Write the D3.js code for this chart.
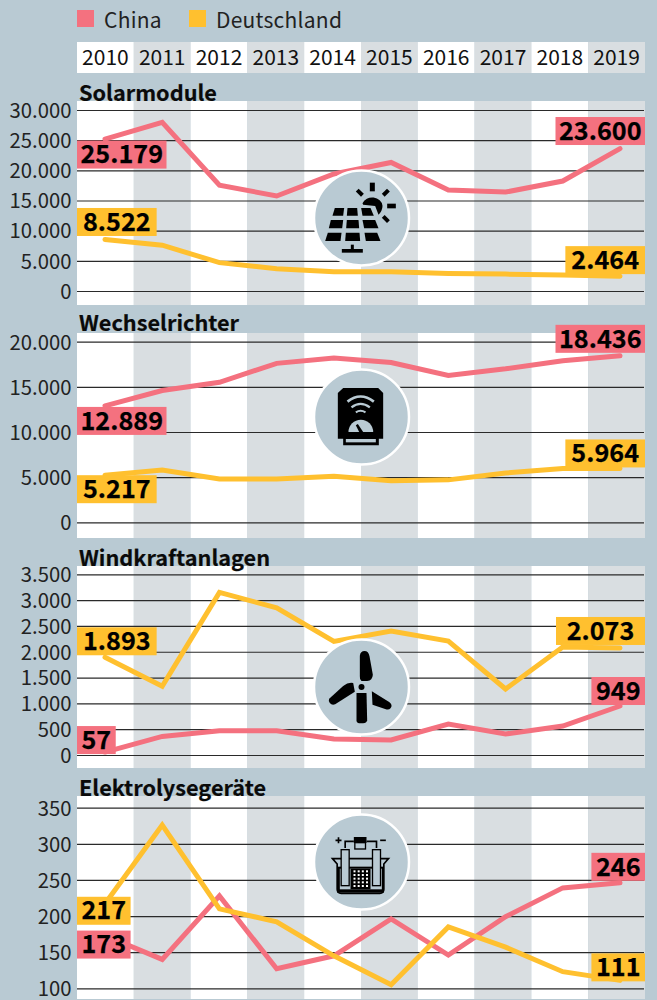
<!DOCTYPE html>
<html><head><meta charset="utf-8">
<script src="https://cdnjs.cloudflare.com/ajax/libs/d3/7.8.5/d3.min.js"></script>
<style>html,body{margin:0;padding:0;background:#b9cad3}svg{display:block}
text{font-family:"Noto Sans CJK JP","Noto Sans",sans-serif}</style></head><body>
<script>
const years = [2010,2011,2012,2013,2014,2015,2016,2017,2018,2019];
const panelNames = ["Solarmodule","Wechselrichter","Windkraftanlagen","Elektrolysegeräte"];
const seriesNames = ["China","Deutschland"];
const solarChina = [25179,27950,17550,15750,19400,21300,16740,16400,18230,23600];
const solarDE = [8522,7600,4700,3700,3200,3200,2900,2800,2650,2464];
const inverterChina = [12889,14600,15500,17600,18200,17700,16260,17000,17900,18436];
const inverterDE = [5217,5800,4800,4800,5100,4600,4700,5460,5950,5964];
const windChina = [57,360,470,470,310,290,600,407,560,949];
const windDE = [1893,1330,3150,2850,2200,2400,2208,1278,2090,2073];
const electroChina = [173,140,228,127,145,196,146,199,239,246];
const electroDE = [217,326,210,192,145,105,185,157,123,111];
const solarTicks = [0,5000,10000,15000,20000,25000,30000];
const inverterTicks = [0,5000,10000,15000,20000];
const windTicks = [0,500,1000,1500,2000,2500,3000,3500];
const electroTicks = [100,150,200,250,300,350];

const W=657,H=1000, BG="#b9cad3", GREY="#d9dee1", RED="#f4717f", YEL="#ffc02f", colors=[RED,YEL];
const fmt = d3.formatLocale({decimal:",",thousands:".",grouping:[3],currency:["","€"]}).format(",d");
const svg = d3.select("body").append("svg").attr("width",W).attr("height",H);
svg.append("rect").attr("width",W).attr("height",H).attr("fill",BG);

const band = d3.scaleBand().domain(years).range([77,645]);
const x = d3.scalePoint().domain(years).range([105,620]);

// legend
const legX=[77,189];
seriesNames.forEach((s,i)=>{
  svg.append("rect").attr("x",legX[i]).attr("y",10).attr("width",17).attr("height",17).attr("fill",colors[i]);
  svg.append("text").attr("x",legX[i]+27).attr("y",27.5).attr("font-size",21).attr("letter-spacing",0.25).attr("fill","#222").text(s);
});
// header years
const head = svg.append("g");
years.forEach((y,i)=>{
  head.append("rect").attr("x",band(y)).attr("y",42).attr("width",band.bandwidth()).attr("height",31).attr("fill",i%2?GREY:"#fff");
  head.append("text").attr("x",band(y)+band.bandwidth()/2).attr("y",65).attr("text-anchor","middle").attr("font-size",21).attr("fill","#111").text(y);
});

const panels=[
 {top:101,bot:305,y0:291,y1:110,dom:[0,30000],ticks:solarTicks,cn:solarChina,de:solarDE,off:[1.5,-31.6,-31.6,-30],cy:218,titleY:100.5,icon:iconSolar},
 {top:333,bot:538,y0:522.3,y1:341.7,dom:[0,20000],ticks:inverterTicks,cn:inverterChina,de:inverterDE,off:[1,-31,0,-29],cy:417,titleY:331,icon:iconInverter},
 {top:566,bot:768,y0:755,y1:574.3,dom:[0,3500],ticks:windTicks,cn:windChina,de:windDE,off:[-26,-29,-30,-31],cy:687,titleY:565.5,icon:iconWind},
 {top:796,bot:999,y0:988.3,y1:807.7,dom:[100,350],ticks:electroTicks,cn:electroChina,de:electroDE,off:[-5,-30,-7,-27],cy:862,titleY:795.5,icon:iconElectro}
];

panels.forEach((p,pi)=>{
  const g=svg.append("g");
  const y=d3.scaleLinear().domain(p.dom).range([p.y0,p.y1]);
  years.forEach((yr,i)=>g.append("rect").attr("x",band(yr)).attr("y",p.top).attr("width",band.bandwidth()).attr("height",p.bot-p.top).attr("fill",i%2?GREY:"#fff"));
  g.append("text").attr("x",79).attr("y",p.titleY).attr("font-size",21.7).attr("font-weight",700).attr("fill","#0a0a0a").attr("stroke","#0a0a0a").attr("stroke-width",0.2).text(panelNames[pi]);
  const axis=d3.axisLeft(y).tickValues(p.ticks).tickFormat(fmt).tickSize(0).tickPadding(0);
  const ax=g.append("g").attr("transform","translate(71.5,0)").call(axis);
  ax.select(".domain").remove();
  ax.selectAll("text").attr("font-size",20.3).attr("fill","#222").attr("font-family",'"Noto Sans CJK JP"').attr("dy","0.36em");
  const grid=d3.axisLeft(y).tickValues(p.ticks).tickSize(-567).tickFormat("");
  const gg=g.append("g").attr("transform","translate(77,0)").call(grid);
  gg.select(".domain").remove();
  gg.selectAll("line").attr("stroke","#2a2a2a").attr("stroke-width",1.2);

  const line=d3.line().x((d,i)=>x(years[i])).y(d=>y(d));
  [p.cn,p.de].forEach((s,i)=>g.append("path").attr("d",line(s)).attr("fill","none").attr("stroke",colors[i]).attr("stroke-width",5).attr("stroke-linecap","round"));

  g.append("circle").attr("cx",361.5).attr("cy",p.cy).attr("r",47.5).attr("fill",BG).attr("stroke","#fff").attr("stroke-width",2.5);
  p.icon(g.append("g").attr("transform",`translate(361.5,${p.cy}) scale(${1/3}) translate(-185,-172)`));

  const lab=(val,series,side,off)=>{
    const idx=side?9:0;
    const yTop=y(series?p.de[idx]:p.cn[idx])+off;
    const t=g.append("text").attr("y",yTop+22.7).attr("font-size",25.2).attr("font-weight",700).attr("fill","#000").attr("stroke","#000").attr("stroke-width",0.25).attr("text-anchor","middle").text(fmt(val));
    const w=val===2073?89:t.node().getComputedTextLength()+(val<1000?9:String(val).length>4?7:12);
    const rx=side?645-w:77;
    t.attr("x",rx+w/2);
    g.insert("rect",()=>t.node()).attr("x",rx).attr("y",yTop).attr("width",w).attr("height",28).attr("fill",colors[series]);
  };
  lab(p.cn[0],0,0,p.off[0]); lab(p.cn[9],0,1,p.off[1]);
  lab(p.de[0],1,0,p.off[2]); lab(p.de[9],1,1,p.off[3]);
});

function poly(g,pts){g.append("polygon").attr("points",pts.map(d=>d.join(",")).join(" ")).attr("fill","#000");}
function iconSolar(g){
  [[[105,142],[133,142],[130,165],[98,165]],[[143,142],[172,142],[174,165],[141,165]],[[184,142],[212,142],[222,165],[188,165]],
   [[93,178],[130,178],[127,203],[87,203]],[[141,178],[176,178],[178,203],[139,203]],[[188,178],[226,178],[236,203],[193,203]],
   [[84,216],[125,216],[122,241],[76,241]],[[138,216],[179,216],[181,241],[136,241]],[[194,216],[232,216],[242,241],[198,241]]].forEach(c=>poly(g,c));
  g.append("rect").attr("x",153).attr("y",252).attr("width",9).attr("height",14);
  g.append("rect").attr("x",126).attr("y",265).attr("width",63).attr("height",11);
  g.append("path").attr("d","M188,128 A31,27 0 0 1 248,135 Q248,150 236,162 L226,136 L190,132 Z");
  g.append("rect").attr("x",210).attr("y",66).attr("width",15).attr("height",26);
  g.append("rect").attr("x",262).attr("y",129).attr("width",26).attr("height",14);
  [[180,96,45],[258,96,-45],[258,175,45]].forEach(r=>g.append("rect").attr("x",-11).attr("y",-6).attr("width",22).attr("height",12).attr("transform",`translate(${r[0]},${r[1]}) rotate(${r[2]})`));
}
function iconInverter(g){
  g.append("path").attr("d","M130,85 L235,85 L250,100 L250,237 L237,237 L237,257 L130,257 L130,237 L114,237 L114,100 Z");
  g.append("rect").attr("x",138).attr("y",238).attr("width",90).attr("height",10).attr("fill",BG);
  g.append("path").attr("d","M146,217 A37,37 0 0 1 220,217 Z").attr("fill",BG);
  g.append("path").attr("d","M168,197 L174,193 L190,217 L178,217 Z");
  [["M143,126 Q182,95 222,126",8],["M155,143 Q182,122 210,143",7],["M168,158 Q182,148 197,158",6]].forEach(a=>
    g.append("path").attr("d",a[0]).attr("fill","none").attr("stroke",BG).attr("stroke-width",a[1]));
}
function iconWind(g){
  g.append("path").attr("d","M180,78 Q182,64 194,64 Q206,64 209,80 L219,135 Q218,152 202,154 L185,154 Q179,150 180,140 Z");
  g.append("path").attr("d","M170,190 L200,190 L202,272 Q200,281 190,281 L178,281 Q170,280 170,272 Z");
  g.append("path").attr("d","M88,207 L130,169 Q145,157 160,160 L165,186 L106,224 Q96,228 90,220 Q85,213 88,207 Z");
  g.append("path").attr("d","M216,185 L268,217 Q280,226 272,236 Q268,241 258,239 L218,225 Z");
  g.append("circle").attr("cx",185).attr("cy",172).attr("r",14).attr("fill",BG);
  g.append("circle").attr("cx",185).attr("cy",172).attr("r",9);
}
function iconElectro(g){
  const s=(d,w)=>g.append("path").attr("d",d).attr("fill","none").attr("stroke","#000").attr("stroke-width",w||5);
  g.append("rect").attr("x",162).attr("y",97).attr("width",38).attr("height",18);
  g.append("rect").attr("x",165).attr("y",114).attr("width",32).attr("height",19).attr("fill",BG).attr("stroke","#000").attr("stroke-width",4);
  s("M136,130 L136,110 L162,110");s("M230,130 L230,110 L200,110");
  s("M107,107 H125 M116,98 V116",5);s("M241,107 H258",5);
  s("M98,162 L112,178 L112,254 Q112,266 124,266 L240,266 Q252,266 252,254 L252,178 L266,162 Z",5);
  g.append("rect").attr("x",112).attr("y",186).attr("width",140).attr("height",78).attr("fill","#000");
  g.append("rect").attr("x",120).attr("y",192).attr("width",126).attr("height",62).attr("fill",BG);
  g.append("rect").attr("x",152).attr("y",192).attr("width",60).attr("height",62).attr("fill","#000");
  g.append("rect").attr("x",124).attr("y",135).attr("width",24).attr("height",108).attr("fill",BG).attr("stroke","#000").attr("stroke-width",4);
  g.append("rect").attr("x",218).attr("y",135).attr("width",24).attr("height",108).attr("fill",BG).attr("stroke","#000").attr("stroke-width",4);
  for(let r=0;r<5;r++)for(let c=0;c<4;c++)
    g.append("rect").attr("x",161+c*12.5).attr("y",197+r*11).attr("width",6).attr("height",6).attr("fill","#fff");
}
</script></body></html>
